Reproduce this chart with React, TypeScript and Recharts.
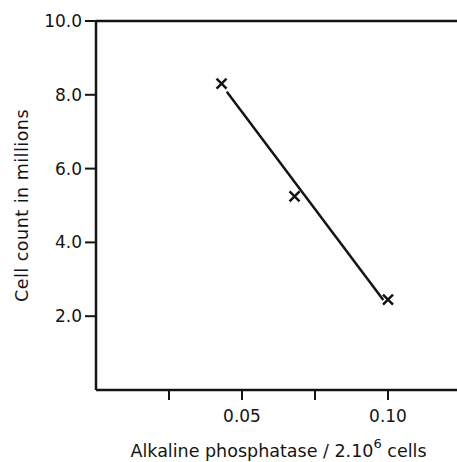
import { ComposedChart, Scatter, XAxis, YAxis, ReferenceLine } from "recharts";

// measured points (alkaline phosphatase, cell count in millions)
const phosphatase = [0.043, 0.068, 0.1];
const cellCount = [8.3, 5.25, 2.45];

// drawn fit line, end points
const fitX = [0.0448, 0.0984];
const fitY = [8.08, 2.44];

const xTicks = [0.025, 0.05, 0.075, 0.1];
const xTickLabels = ["", "0.05", "", "0.10"];
const yTicks = [2, 4, 6, 8, 10];

const points = phosphatase.map((x, i) => ({ x, y: cellCount[i] }));
const fitLine = fitX.map((x, i) => ({ x, y: fitY[i] }));

const ink = "#141414";
const font = "'DejaVu Sans', sans-serif";

const Cross = (props: any) => {
  const { cx, cy } = props;
  const r = 5;
  return (
    <path
      d={`M${cx - r},${cy - r}L${cx + r},${cy + r}M${cx - r},${cy + r}L${cx + r},${cy - r}`}
      stroke={ink}
      strokeWidth={2.5}
      fill="none"
    />
  );
};

const YTitle = (props: any) => {
  const vb = props.viewBox || { x: 0, y: 21, width: 96, height: 369 };
  const cx = 22;
  const cy = vb.y + vb.height / 2;
  return (
    <text
      x={cx}
      y={cy}
      transform={`rotate(-90 ${cx} ${cy})`}
      textAnchor="middle"
      dominantBaseline="central"
      fontFamily={font}
      fontSize={17.5}
      letterSpacing={0.5}
      fill={ink}
    >
      Cell count in millions
    </text>
  );
};

const XTitle = (props: any) => {
  const vb = props.viewBox || { x: 96, y: 390, width: 365, height: 72 };
  const cx = vb.x + vb.width / 2;
  return (
    <text x={cx} y={457} textAnchor="middle" fontFamily={font} fontSize={17.5} fill={ink}>
      Alkaline phosphatase / 2.10
      <tspan dy={-9} fontSize={13}>6</tspan>
      <tspan dy={9}> cells</tspan>
    </text>
  );
};

export default function App() {
  return (
    <div style={{ position: "absolute", left: 0, top: 0, width: 457, height: 462, overflow: "hidden", background: "#fff" }}>
      <ComposedChart width={461} height={462} margin={{ top: 21, right: 0, bottom: 0, left: 0 }}>
        <XAxis
          type="number"
          dataKey="x"
          domain={[0, 0.125]}
          ticks={xTicks}
          tickFormatter={(v: number) => xTickLabels[xTicks.indexOf(v)] ?? ""}
          height={72}
          tickSize={10}
          tickMargin={10}
          axisLine={{ stroke: ink, strokeWidth: 2.5 }}
          tickLine={{ stroke: ink, strokeWidth: 2 }}
          tick={{ fill: ink, fontSize: 17, fontFamily: font }}
          label={<XTitle />}
        />
        <YAxis
          type="number"
          dataKey="y"
          domain={[0, 10]}
          ticks={yTicks}
          tickFormatter={(v: number) => v.toFixed(1)}
          width={96}
          tickSize={11}
          tickMargin={3}
          axisLine={{ stroke: ink, strokeWidth: 2.5 }}
          tickLine={{ stroke: ink, strokeWidth: 2 }}
          tick={{ fill: ink, fontSize: 17, fontFamily: font }}
          label={<YTitle />}
        />
        <ReferenceLine y={10} stroke={ink} strokeWidth={2.5} />
        <Scatter
          data={fitLine}
          line={{ stroke: ink, strokeWidth: 2.5 }}
          shape={() => <g />}
          isAnimationActive={false}
          legendType="none"
        />
        <Scatter data={points} shape={<Cross />} isAnimationActive={false} legendType="none" />
      </ComposedChart>
    </div>
  );
}
